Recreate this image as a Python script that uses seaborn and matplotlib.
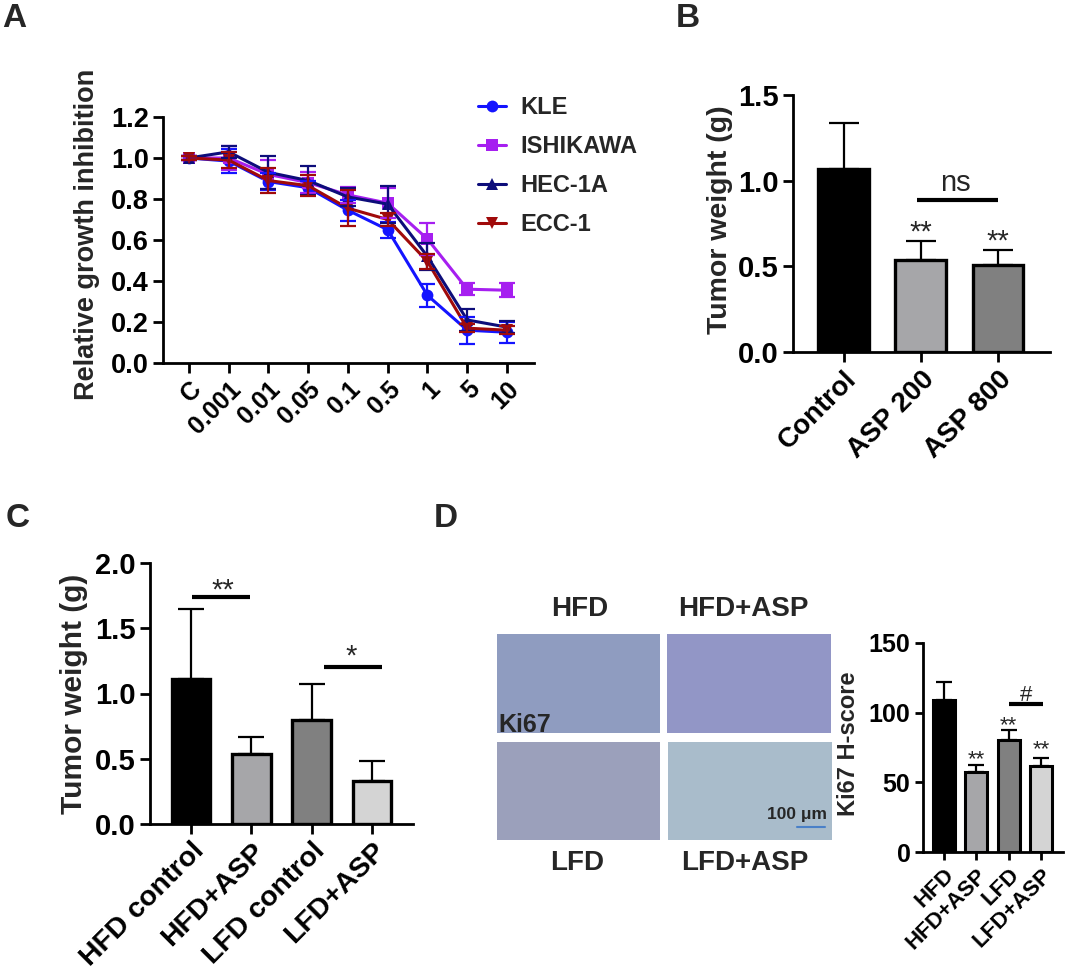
import numpy as np
import pandas as pd
import matplotlib
matplotlib.use("Agg")
import matplotlib.pyplot as plt
import seaborn as sns

# ---- Panel A: growth inhibition curves ----
doses = ["C", "0.001", "0.01", "0.05", "0.1", "0.5", "1", "5", "10"]
cell_lines = ["KLE", "ISHIKAWA", "HEC-1A", "ECC-1"]
kle_mean = [1.00, 0.985, 0.885, 0.855, 0.745, 0.65, 0.33, 0.16, 0.15]
kle_err = [0.01, 0.06, 0.04, 0.035, 0.05, 0.04, 0.057, 0.065, 0.05]
ish_mean = [1.00, 1.00, 0.92, 0.88, 0.82, 0.78, 0.605, 0.36, 0.355]
ish_err = [0.01, 0.06, 0.07, 0.05, 0.04, 0.075, 0.076, 0.03, 0.035]
hec_mean = [1.00, 1.03, 0.93, 0.89, 0.81, 0.775, 0.52, 0.21, 0.175]
hec_err = [0.01, 0.03, 0.08, 0.07, 0.045, 0.09, 0.065, 0.052, 0.028]
ecc_mean = [1.00, 0.99, 0.89, 0.865, 0.755, 0.70, 0.495, 0.17, 0.16]
ecc_err = [0.01, 0.04, 0.06, 0.05, 0.087, 0.03, 0.035, 0.02, 0.02]
line_colors = ["#1414ff", "#a61ff0", "#0d0d7a", "#a00a0a"]
line_markers = ["o", "s", "^", "v"]

# ---- Panel B: tumor weight, ASP dose ----
groups_b = ["Control", "ASP 200", "ASP 800"]
mean_b = [1.07, 0.535, 0.51]
err_b = [0.265, 0.11, 0.085]
colors_b = ["#000000", "#a5a5a9", "#808080"]

# ---- Panel C: tumor weight, diet ----
groups_c = ["HFD control", "HFD+ASP", "LFD control", "LFD+ASP"]
mean_c = [1.11, 0.54, 0.795, 0.33]
err_c = [0.54, 0.125, 0.275, 0.15]
colors_c = ["#000000", "#a5a5a9", "#808080", "#d4d4d4"]

# ---- Panel D: Ki67 H-score ----
groups_d = ["HFD", "HFD+ASP", "LFD", "LFD+ASP"]
mean_d = [109.3, 57.2, 80.6, 61.5]
err_d = [12.5, 5.5, 7.0, 6.0]
colors_d = ["#000000", "#a5a5a9", "#808080", "#d4d4d4"]
image_labels = ["HFD", "HFD+ASP", "LFD", "LFD+ASP"]
image_colors = ["#8f9cc0", "#9296c6", "#9ba0bb", "#a9bccb"]

W, H = 1065, 977

sns.set_style("ticks")
plt.rcParams["font.family"] = ["Liberation Sans", "DejaVu Sans"]
plt.rcParams["font.weight"] = "bold"
plt.rcParams["axes.labelweight"] = "bold"
plt.rcParams["axes.linewidth"] = 2
plt.rcParams["xtick.major.width"] = 2
plt.rcParams["ytick.major.width"] = 2
plt.rcParams["xtick.color"] = "black"
plt.rcParams["ytick.color"] = "black"
plt.rcParams["axes.edgecolor"] = "black"


def rect(x0, y0, x1, y1):
    return [x0 / W, 1 - y1 / H, (x1 - x0) / W, (y1 - y0) / H]


def style_axis(ax, tick_size, tick_len=7):
    sns.despine(ax=ax)
    ax.tick_params(length=tick_len, labelsize=tick_size, pad=3)
    for lbl in ax.get_yticklabels():
        lbl.set_fontweight("bold")


def bar_panel(ax, groups, means, errs, colors, width, capsize, edge_lw):
    df = pd.DataFrame({"group": groups, "value": means})
    sns.barplot(data=df, x="group", y="value", hue="group",
                palette=dict(zip(groups, colors)), legend=False,
                width=width, edgecolor="black", linewidth=edge_lw, ax=ax)
    ax.errorbar(np.arange(len(groups)), means,
                yerr=[np.zeros(len(errs)), errs], fmt="none",
                ecolor="black", elinewidth=1.6, capsize=capsize,
                capthick=1.6, zorder=0.5)
    ax.set_xlabel("")


fig = plt.figure(figsize=(W / 100, H / 100), dpi=100)

# ---------------- Panel A ----------------
axA = fig.add_axes(rect(163, 117, 534, 363))
rows = []
for name, m in zip(cell_lines, [kle_mean, ish_mean, hec_mean, ecc_mean]):
    for i, v in enumerate(m):
        rows.append({"pos": i, "value": v, "line": name})
dfA = pd.DataFrame(rows)
sns.lineplot(data=dfA, x="pos", y="value", hue="line", style="line",
             palette=dict(zip(cell_lines, line_colors)),
             markers=dict(zip(cell_lines, line_markers)), dashes=False,
             markersize=8.5, markeredgewidth=0, linewidth=2.2, ax=axA)
for m, e, c in zip([kle_mean, ish_mean, hec_mean, ecc_mean],
                   [kle_err, ish_err, hec_err, ecc_err], line_colors):
    axA.errorbar(np.arange(len(doses)), m, yerr=e, fmt="none", ecolor=c,
                 elinewidth=1.6, capsize=5.5, capthick=1.6)
axA.set_xlim(-0.65, 8.68)
axA.set_ylim(0, 1.2)
axA.set_yticks(np.arange(0, 1.21, 0.2))
axA.set_yticklabels([f"{v:.1f}" for v in np.arange(0, 1.21, 0.2)])
axA.set_xticks(range(len(doses)), doses, rotation=45, ha="right",
               va="top", rotation_mode="anchor", fontweight="bold")
style_axis(axA, 19.5)
axA.tick_params(axis="x", labelsize=18)
axA.set_xlabel("")
axA.set_ylabel("Relative growth inhibition", fontsize=19.5)
axA.yaxis.set_label_coords(-0.17, 0.524)
handles, labels = axA.get_legend_handles_labels()
axA.get_legend().remove()
axA.legend(handles, labels, loc="upper left",
           bbox_to_anchor=(478 / W, 1 - 96 / H), bbox_transform=fig.transFigure,
           frameon=False, fontsize=17, handlelength=1.2, handletextpad=0.6,
           labelspacing=0.68, borderpad=0, borderaxespad=0)

# ---------------- Panel B ----------------
axB = fig.add_axes(rect(793, 95, 1050, 352))
bar_panel(axB, groups_b, mean_b, err_b, colors_b, 0.66, 10.5, 2.4)
axB.set_xlim(-0.66, 2.675)
axB.set_ylim(0, 1.5)
axB.set_yticks([0, 0.5, 1.0, 1.5])
axB.set_yticklabels(["0.0", "0.5", "1.0", "1.5"])
axB.set_xticks(range(3), groups_b, rotation=45, ha="right", va="top",
               rotation_mode="anchor", fontweight="bold")
style_axis(axB, 21)
axB.tick_params(axis="x", labelsize=20)
axB.set_ylabel("Tumor weight (g)", fontsize=20.5)
axB.yaxis.set_label_coords(-0.233, 0.514)
axB.plot([0.95, 2.0], [0.886, 0.886], color="black", lw=3, solid_capstyle="butt")
axB.text(1.45, 0.985, "ns", ha="center", va="center", fontsize=21,
         fontweight="normal")
axB.text(1, 0.653, "**", ha="center", va="baseline", fontsize=21, fontweight="normal")
axB.text(2, 0.60, "**", ha="center", va="baseline", fontsize=21, fontweight="normal")

# ---------------- Panel C ----------------
axC = fig.add_axes(rect(150, 563, 413, 824))
bar_panel(axC, groups_c, mean_c, err_c, colors_c, 0.64, 9.5, 2.4)
axC.set_xlim(-0.68, 3.68)
axC.set_ylim(0, 2.0)
axC.set_yticks([0, 0.5, 1.0, 1.5, 2.0])
axC.set_yticklabels(["0.0", "0.5", "1.0", "1.5", "2.0"])
axC.set_xticks(range(4), groups_c, rotation=45, ha="right", va="top",
               rotation_mode="anchor", fontweight="bold")
style_axis(axC, 21)
axC.tick_params(axis="x", labelsize=20.5)
axC.set_ylabel("Tumor weight (g)", fontsize=21.5)
axC.yaxis.set_label_coords(-0.236, 0.5)
axC.plot([0.02, 0.98], [1.74, 1.74], color="black", lw=3, solid_capstyle="butt")
axC.text(0.52, 1.724, "**", ha="center", va="baseline", fontsize=21, fontweight="normal")
axC.plot([2.2, 3.17], [1.203, 1.203], color="black", lw=3, solid_capstyle="butt")
axC.text(2.66, 1.218, "*", ha="center", va="baseline", fontsize=21, fontweight="normal")

# ---------------- Panel D: image placeholders ----------------
img_boxes = [(497, 634, 660, 733), (667, 634, 831, 733),
             (497, 742, 660, 840), (668, 742, 832, 840)]
for box, col in zip(img_boxes, image_colors):
    axi = fig.add_axes(rect(*box))
    axi.set_facecolor(col)
    axi.set_xticks([])
    axi.set_yticks([])
    for sp in axi.spines.values():
        sp.set_visible(False)
label_pos = [(580, 609), (743, 609), (577, 863), (745, 863)]
for (x, y), lab in zip(label_pos, image_labels):
    fig.text(x / W, 1 - y / H, lab, ha="center", va="center", fontsize=20)
fig.text(498 / W, 1 - 725 / H, "Ki67", ha="left", va="center", fontsize=18)
fig.text(827 / W, 1 - 814 / H, "100 μm", ha="right", va="center", fontsize=12.5)
fig.add_artist(plt.Line2D([797 / W, 825 / W], [1 - 827 / H, 1 - 827 / H],
                          color="#4a80c8", lw=1.5))

# ---------------- Panel D: bar chart ----------------
axD = fig.add_axes(rect(923, 643, 1063, 852))
bar_panel(axD, groups_d, mean_d, err_d, colors_d, 0.68, 6, 2.2)
axD.set_xlim(-0.65, 3.68)
axD.set_ylim(0, 150)
axD.set_yticks([0, 50, 100, 150])
axD.set_xticks(range(4), groups_d, rotation=45, ha="right", va="top",
               rotation_mode="anchor", fontweight="bold")
style_axis(axD, 18, tick_len=6)
axD.tick_params(axis="x", labelsize=16)
axD.set_ylabel("Ki67 H-score", fontsize=17)
axD.yaxis.set_label_coords(-0.45, 0.517)
axD.text(1, 62.1, "**", ha="center", va="baseline", fontsize=16, fontweight="normal")
axD.text(2, 86.5, "**", ha="center", va="baseline", fontsize=16, fontweight="normal")
axD.text(3, 69.5, "**", ha="center", va="baseline", fontsize=16, fontweight="normal")
axD.plot([2.0, 3.05], [106.2, 106.2], color="black", lw=3, solid_capstyle="butt")
axD.text(2.55, 108.4, "#", ha="center", va="baseline", fontsize=16, fontweight="normal")

# ---------------- panel letters ----------------
for lab, (x, y) in zip("ABCD", [(2, 3), (676, 3), (6, 503), (434, 503)]):
    fig.text(x / W, 1 - y / H, lab, ha="left", va="top", fontsize=24)

fig.savefig("out.png", dpi=100)
